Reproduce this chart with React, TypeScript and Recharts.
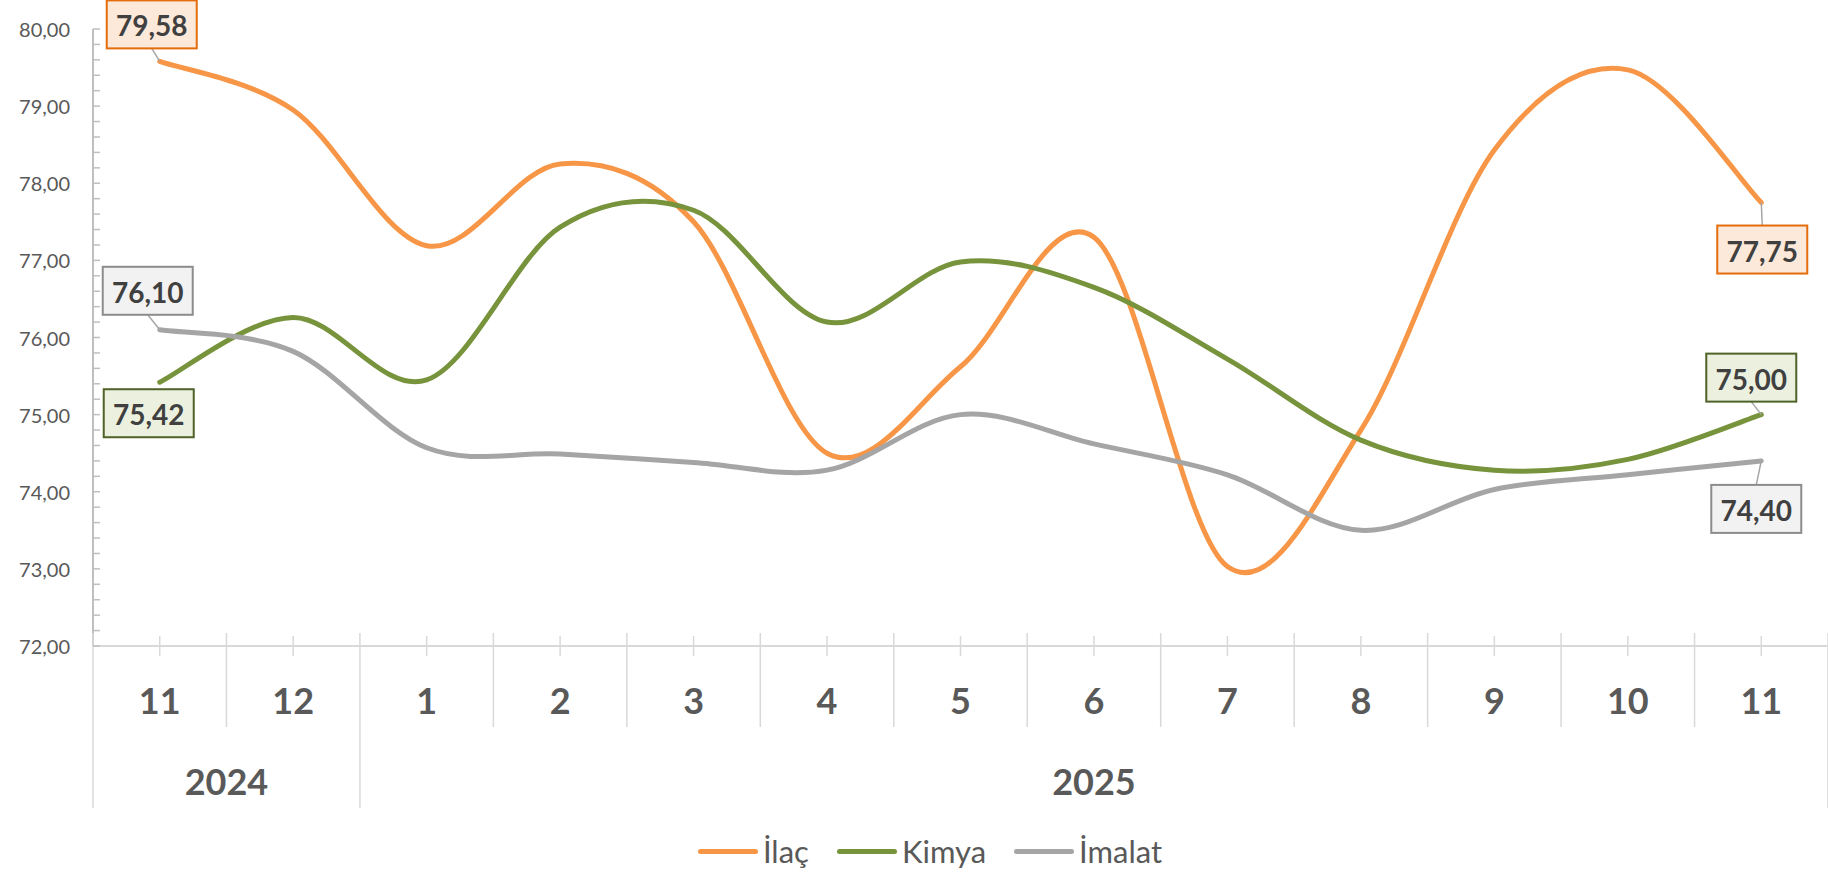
import { LineChart, Line, XAxis, YAxis, Legend, LabelList } from "recharts";

const months = ["11", "12", "1", "2", "3", "4", "5", "6", "7", "8", "9", "10", "11"];
const years = ["2024", "2024", "2025", "2025", "2025", "2025", "2025", "2025", "2025", "2025", "2025", "2025", "2025"];
const ilac = [79.58, 78.95, 77.19, 78.25, 77.5, 74.5, 75.62, 77.3, 73.03, 74.8, 78.43, 79.47, 77.75];
const kimya = [75.42, 76.26, 75.45, 77.43, 77.65, 76.2, 76.98, 76.65, 75.72, 74.67, 74.28, 74.42, 75.0];
const imalat = [76.1, 75.82, 74.57, 74.49, 74.38, 74.28, 75.0, 74.62, 74.22, 73.5, 74.03, 74.22, 74.4];
const yMajor = [72, 73, 74, 75, 76, 77, 78, 79, 80];

const data = months.map((m, i) => ({
  key: `${years[i]}-${m}`,
  month: m,
  year: years[i],
  ilac: ilac[i],
  kimya: kimya[i],
  imalat: imalat[i],
}));

// minor ticks every 0.2 between the major ones
const yTicks = yMajor.flatMap((t, i) =>
  i === yMajor.length - 1 ? [t] : [0, 0.2, 0.4, 0.6, 0.8].map((d) => Math.round((t + d) * 10) / 10)
);

const W = 1828;
const H = 874;
const Y_W = 93;
const X_H = 182;
const LEG_H = 46;
const PLOT_W = W - Y_W;
const FONT = "Lato, 'Open Sans', sans-serif";

const series = [
  { key: "ilac", name: "İlaç", color: "#F79646", fill: "#FDE9D9", border: "#E46C0A", first: [-8, -37], last: [1, 47] },
  { key: "kimya", name: "Kimya", color: "#77933C", fill: "#EBF1DE", border: "#4F6228", first: [-11, 31], last: [-10, -37] },
  { key: "imalat", name: "İmalat", color: "#A5A5A5", fill: "#F2F2F2", border: "#8C8C8C", first: [-12, -39], last: [-5, 48] },
];

const fmt = (v: number) => v.toFixed(2).replace(".", ",");

// Excel-like smoothed line (Catmull-Rom through the points)
const excelCurve = (ctx: any) => {
  let pts: number[][] = [];
  return {
    areaStart() {},
    areaEnd() {},
    lineStart() {
      pts = [];
    },
    point(x: number, y: number) {
      pts.push([+x, +y]);
    },
    lineEnd() {
      if (!pts.length) return;
      ctx.moveTo(pts[0][0], pts[0][1]);
      for (let i = 0; i < pts.length - 1; i++) {
        const p0 = pts[Math.max(i - 1, 0)];
        const p1 = pts[i];
        const p2 = pts[i + 1];
        const p3 = pts[Math.min(i + 2, pts.length - 1)];
        ctx.bezierCurveTo(
          p1[0] + (p2[0] - p0[0]) / 6,
          p1[1] + (p2[1] - p0[1]) / 6,
          p2[0] - (p3[0] - p1[0]) / 6,
          p2[1] - (p3[1] - p1[1]) / 6,
          p2[0],
          p2[1]
        );
      }
    },
  };
};

function ValueTick(props: any) {
  const { x, y, payload } = props;
  const v = payload.value;
  const major = Math.abs(v - Math.round(v)) < 1e-6;
  return (
    <g>
      <line x1={x} x2={x + 7} y1={y} y2={y} stroke="#BFBFBF" strokeWidth={1.5} />
      {major && (
        <text x={x - 23} y={y} textAnchor="end" dominantBaseline="central" fontFamily={FONT} fontSize={20} fill="#595959">
          {fmt(v)}
        </text>
      )}
    </g>
  );
}

function MonthTick(props: any) {
  const { x, y, index } = props;
  const bw = PLOT_W / months.length;
  const left = x - bw / 2;
  const yearStart = index === 0 || years[index] !== years[index - 1];
  const groupLen = years.filter((yr) => yr === years[index]).length;
  const last = index === months.length - 1;
  return (
    <g>
      <line x1={left} x2={left} y1={y - 13} y2={yearStart ? y + 162 : y + 81} stroke="#D9D9D9" strokeWidth={1.5} />
      {last && <line x1={x + bw / 2} x2={x + bw / 2} y1={y - 13} y2={y + 162} stroke="#D9D9D9" strokeWidth={1.5} />}
      <line x1={x} x2={x} y1={y - 10} y2={y + 10} stroke="#D9D9D9" strokeWidth={1.5} />
      <text x={x} y={y + 54} textAnchor="middle" dominantBaseline="central" fontFamily={FONT} fontWeight={700} fontSize={36} fill="#595959">
        {months[index]}
      </text>
      {yearStart && (
        <text
          x={x + ((groupLen - 1) * bw) / 2}
          y={y + 135}
          textAnchor="middle"
          dominantBaseline="central"
          fontFamily={FONT}
          fontWeight={700}
          fontSize={36}
          fill="#595959"
        >
          {years[index]}
        </text>
      )}
    </g>
  );
}

function makeLabel(s: (typeof series)[number]) {
  return (props: any) => {
    const { x, y, value, index } = props;
    if (index !== 0 && index !== months.length - 1) return null;
    const [dx, dy] = index === 0 ? s.first : s.last;
    const bw = 90;
    const bh = 48;
    const cx = x + dx;
    const cy = y + dy;
    const edgeY = dy < 0 ? cy + bh / 2 : cy - bh / 2;
    const showLeader = Math.abs(edgeY - y) > 9;
    return (
      <g>
        {showLeader && <line x1={cx} y1={edgeY} x2={x} y2={y} stroke="#A6A6A6" strokeWidth={1.5} />}
        <rect x={cx - bw / 2} y={cy - bh / 2} width={bw} height={bh} fill={s.fill} stroke={s.border} strokeWidth={2} />
        <text x={cx} y={cy + 1} textAnchor="middle" dominantBaseline="central" fontFamily={FONT} fontWeight={700} fontSize={28} fill="#404040">
          {fmt(Number(value))}
        </text>
      </g>
    );
  };
}

const LegendRow = () => (
  <div
    style={{
      display: "flex",
      justifyContent: "center",
      alignItems: "center",
      gap: 28,
      height: LEG_H,
      paddingLeft: 32,
      fontFamily: FONT,
      fontSize: 31,
      color: "#595959",
    }}
  >
    {series.map((s) => (
      <div key={s.key} style={{ display: "flex", alignItems: "center" }}>
        <span style={{ display: "inline-block", width: 60, height: 5, borderRadius: 3, background: s.color, marginRight: 5 }} />
        {s.name}
      </div>
    ))}
  </div>
);

export default function App() {
  return (
    <div style={{ position: "absolute", left: 0, top: 0, width: W, height: H, background: "#fff" }}>
      <LineChart width={W} height={H} data={data} margin={{ top: 29, right: 0, bottom: 0, left: 0 }}>
        <XAxis
          dataKey="key"
          scale="band"
          interval={0}
          height={X_H}
          tickSize={0}
          tickMargin={0}
          tickLine={false}
          axisLine={{ stroke: "#D9D9D9", strokeWidth: 2 }}
          tick={<MonthTick />}
        />
        <YAxis
          domain={[72, 80]}
          ticks={yTicks}
          interval={0}
          width={Y_W}
          tickSize={0}
          tickMargin={0}
          tickLine={false}
          axisLine={{ stroke: "#BFBFBF", strokeWidth: 2 }}
          tick={<ValueTick />}
        />
        <Legend verticalAlign="bottom" height={LEG_H} content={() => <LegendRow />} />
        {series.map((s) => (
          <Line
            key={s.key}
            dataKey={s.key}
            name={s.name}
            type={excelCurve as any}
            stroke={s.color}
            strokeWidth={5}
            strokeLinecap="round"
            dot={false}
            activeDot={false}
            isAnimationActive={false}
          >
            <LabelList dataKey={s.key} content={makeLabel(s)} />
          </Line>
        ))}
      </LineChart>
    </div>
  );
}
